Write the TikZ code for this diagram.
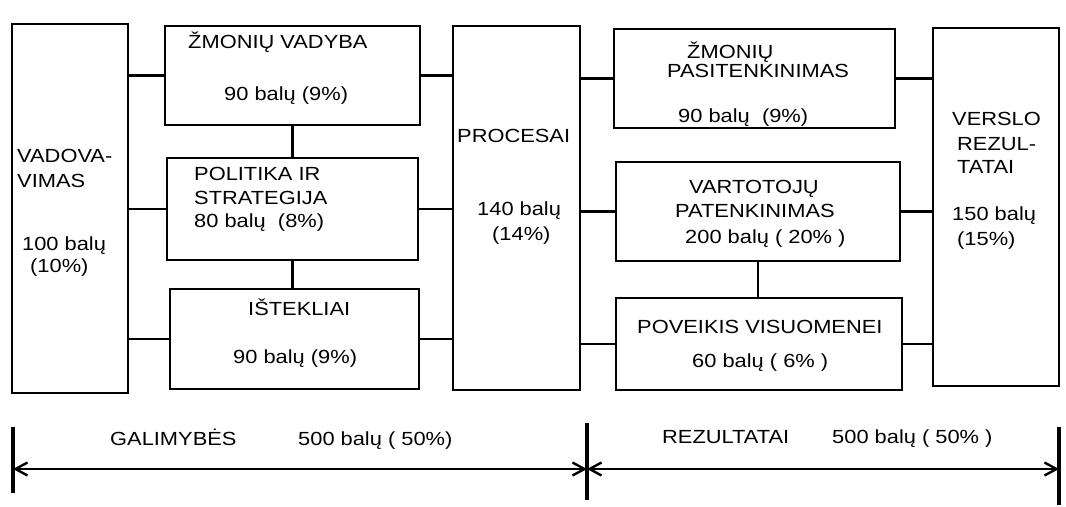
\documentclass[tikz,border=0pt]{standalone}
\usepackage{fontspec}
\setmainfont[FakeStretch=1.15]{Liberation Sans}
\usepackage{tikz}
\usetikzlibrary{
  arrows.meta,
  calc
}
\definecolor{linija}{RGB}{0, 0, 0}
\tikzset{
  % Blokai
  blok/.style    = {draw=linija, line width=2.8pt, inner sep=0pt, outer sep=0pt},
  % Jungtys tarp bloku
  jungtis/.style = {draw=linija, line width=2.3pt},
  % Apatine skale
  skale/.style   = {draw=linija, line width=2.4pt,
                    {Straight Barb[length=12pt,width=13pt]}-{Straight Barb[length=12pt,width=13pt]}},
  riba/.style    = {draw=linija, line width=3.4pt},
  % Tekstai
  lab/.style     = {font=\fontsize{19}{22}\selectfont, inner sep=0pt, anchor=base west},
}
\begin{document}
\begin{tikzpicture}[x=1pt, y=-1pt]
  \path[fill=white] (0,0) rectangle (1066,505);
  % Galimybes
  \node[blok, minimum width=116pt, minimum height=369pt] (vad)  at (70,208.5)  {};
  \node[blok, minimum width=255pt, minimum height=99pt]  (zv)   at (292.5,75.5) {};
  \node[blok, minimum width=251pt, minimum height=102pt] (pol)  at (292.5,209)  {};
  \node[blok, minimum width=249pt, minimum height=100pt] (ist)  at (294.5,339)  {};
  \node[blok, minimum width=127pt, minimum height=364pt] (proc) at (516.5,208)  {};
  % Rezultatai
  \node[blok, minimum width=281pt, minimum height=99pt]  (zp)   at (754.5,78.5) {};
  \node[blok, minimum width=284pt, minimum height=99pt]  (vart) at (758,211.5)  {};
  \node[blok, minimum width=286pt, minimum height=92pt]  (pov)  at (759,344)    {};
  \node[blok, minimum width=126pt, minimum height=358pt] (vr)   at (996,207)    {};
  % Jungtys
  \draw[jungtis] (zv.west)  -- (zv.west -| vad.east);
  \draw[jungtis] (pol.west) -- (pol.west -| vad.east);
  \draw[jungtis] (ist.west) -- (ist.west -| vad.east);
  \draw[jungtis] (zv.east)  -- (zv.east -| proc.west);
  \draw[jungtis] (pol.east) -- (pol.east -| proc.west);
  \draw[jungtis] (ist.east) -- (ist.east -| proc.west);
  \draw[jungtis] (zv.south) -- (zv.south |- pol.north);
  \draw[jungtis] (pol.south) -- (pol.south |- ist.north);
  \draw[jungtis] (zp.west)   -- (zp.west -| proc.east);
  \draw[jungtis] (vart.west) -- (vart.west -| proc.east);
  \draw[jungtis] (pov.west)  -- (pov.west -| proc.east);
  \draw[jungtis] (zp.east)   -- (zp.east -| vr.west);
  \draw[jungtis] (vart.east) -- (vart.east -| vr.west);
  \draw[jungtis] (pov.east)  -- (pov.east -| vr.west);
  \draw[jungtis] (vart.south) -- (vart.south |- pov.north);
  % Tekstai blokuose
  \node[lab] (vad1) at (17,162)  {VADOVA-};
  \node[lab] (vad2) at (17,187)  {VIMAS};
  \node[lab] (vad3) at (22,250)  {100 balų};
  \node[lab] (vad4) at (30,272)  {(10\%)};
  \node[lab] (zv1)  at (188,48)  {ŽMONIŲ VADYBA};
  \node[lab] (zv2)  at (224,100) {90 balų (9\%)};
  \node[lab] (pol1) at (194,180) {POLITIKA IR};
  \node[lab] (pol2) at (194,204) {STRATEGIJA};
  \node[lab] (pol3) at (194,227) {80 balų \ (8\%)};
  \node[lab] (ist1) at (248,315) {IŠTEKLIAI};
  \node[lab] (ist2) at (233,363) {90 balų (9\%)};
  \node[lab] (proc1) at (457,142) {PROCESAI};
  \node[lab] (proc2) at (477,215) {140 balų};
  \node[lab] (proc3) at (492,240) {(14\%)};
  \node[lab] (zp1)  at (687,58)  {ŽMONIŲ};
  \node[lab] (zp2)  at (667,77)  {PASITENKINIMAS};
  \node[lab] (zp3)  at (678,122) {90 balų \ (9\%)};
  \node[lab] (vart1) at (689,193) {VARTOTOJŲ};
  \node[lab] (vart2) at (675,217) {PATENKINIMAS};
  \node[lab] (vart3) at (685,243) {200 balų ( 20\% )};
  \node[lab] (pov1) at (637,333) {POVEIKIS VISUOMENEI};
  \node[lab] (pov2) at (692,367) {60 balų ( 6\% )};
  \node[lab] (vr1)  at (952,125) {VERSLO};
  \node[lab] (vr2)  at (957,150) {REZUL-};
  \node[lab] (vr3)  at (957,173) {TATAI};
  \node[lab] (vr4)  at (952,220) {150 balų};
  \node[lab] (vr5)  at (957,245) {(15\%)};
  % Apatine skale
  \coordinate (sk1) at (13,469);
  \coordinate (sk2) at (587,469);
  \coordinate (sk3) at (1059,469);
  \draw[riba] (sk1) ++(0,-42) -- ++(0,66);
  \draw[riba] (sk2) ++(0,-46) -- ++(0,77);
  \draw[riba] (sk3) ++(0,-42) -- ++(0,78);
  \draw[skale] (sk1) -- (sk2);
  \draw[skale] (sk2) -- (sk3);
  \node[lab] (gal1) at (110,445) {GALIMYBĖS};
  \node[lab] (gal2) at (298,445) {500 balų ( 50\%)};
  \node[lab] (rez1) at (662,443) {REZULTATAI};
  \node[lab] (rez2) at (832,443) {500 balų ( 50\% )};
\end{tikzpicture}
\end{document}
